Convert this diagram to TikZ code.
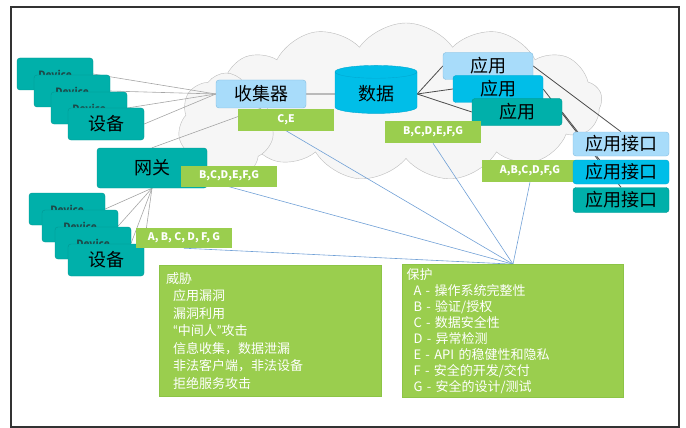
\documentclass[tikz,border=0pt]{standalone}
\usepackage{fontspec}
\setmainfont{Noto Sans CJK SC}
\newfontfamily\quotefont{Lato}
\usepackage{tikz}
\usetikzlibrary{shapes.geometric,shapes.symbols,backgrounds}

\definecolor{tealbox}{RGB}{0,176,170}
\definecolor{tealedge}{RGB}{0,150,146}
\definecolor{cyanbox}{RGB}{0,190,232}
\definecolor{cyanedge}{RGB}{0,168,210}
\definecolor{skybox}{RGB}{168,220,250}
\definecolor{skyedge}{RGB}{130,188,224}
\definecolor{greenbox}{RGB}{154,206,78}
\definecolor{greenedge}{RGB}{140,196,70}
\definecolor{cloudfill}{RGB}{246,246,246}
\definecolor{cloudedge}{RGB}{188,188,188}
\definecolor{blueline}{RGB}{112,160,214}
\definecolor{devtext}{RGB}{30,72,72}

\begin{document}
\begin{tikzpicture}[x=1pt, y=-1pt,
    box/.style={rectangle, draw, rounded corners=3pt, inner sep=0pt, font=\fontsize{18}{20}\selectfont},
    devbox/.style={box, fill=tealbox, draw=tealedge, minimum width=76pt, minimum height=32pt},
    backdev/.style={devbox, text=devtext, font=\fontsize{10}{12}\selectfont\bfseries},
    appbox/.style={box, minimum width=90pt, minimum height=27pt},
    apibox/.style={box, minimum width=96pt, minimum height=24pt},
    tag/.style={rectangle, fill=greenbox, inner sep=0pt, minimum height=21pt, minimum width=96pt, text=white, font=\fontsize{10.5}{12}\selectfont\bfseries},
    infobox/.style={rectangle, fill=greenbox, draw=greenedge, minimum width=222pt, minimum height=129pt, align=left, text=white},
    puff/.style={cloud, cloud puff arc=110, fill=cloudfill, draw=cloudedge, inner sep=0pt},
    grayline/.style={draw=black!35, line width=0.6pt},
    darkline/.style={draw=black!70, line width=0.8pt},
    bluelink/.style={draw=blueline, line width=0.6pt},
]
    \useasboundingbox (0,0) rectangle (686,428);
    \draw[black!80, line width=1.2pt] (11,7) rectangle (679,427);

    % devices feeding the collector
    \node[backdev] (dt1) at (55,74) {Device};
    \node[backdev] (dt2) at (72,91) {Device};
    \node[backdev] (dt3) at (89,108) {Device};
    \node[devbox] (dt4) at (106,124) {设备};

    % devices behind the gateway
    \node[backdev] (db1) at (67,209) {Device};
    \node[backdev] (db2) at (80,226) {Device};
    \node[backdev] (db3) at (93,243) {Device};
    \node[devbox] (db4) at (106,260) {设备};

    \node[devbox, minimum width=110pt, minimum height=40pt] (gw) at (152,168) {网关};
    \node[box, fill=skybox, draw=skyedge, minimum width=90pt, minimum height=28pt] (coll) at (261,94) {收集器};
    \node[cylinder, shape border rotate=90, aspect=0.3, minimum width=82pt, minimum height=48pt, fill=cyanbox, draw=cyanedge, font=\fontsize{18}{20}\selectfont] (data) at (376,94) {数据};

    \node[appbox, fill=skybox, draw=skyedge] (app1) at (488,66) {应用};
    \node[appbox, fill=cyanbox, draw=cyanedge] (app2) at (498,89) {应用};
    \node[appbox, fill=tealbox, draw=tealedge] (app3) at (517,112) {应用};

    % protection tags
    \node[tag] (cetag) at (286,120) {C,E};
    \node[tag] (gwtag) at (229,176) {B,C,D,E,F,G};
    \node[tag, minimum height=20pt] (devtag) at (184,238) {A, B, C, D, F, G};
    \node[tag, minimum height=22pt] (datatag) at (433,132) {B,C,D,E,F,G};
    \node[tag, minimum height=22pt] (apitag) at (530,171) {A,B,C,D,F,G};

    \node[apibox, fill=skybox, draw=skyedge] (api1) at (621,144) {应用接口};
    \node[apibox, fill=cyanbox, draw=cyanedge] (api2) at (621,172) {应用接口};
    \node[apibox, fill=tealbox, draw=tealedge, minimum height=25pt] (api3) at (621,200) {应用接口};

    \node[infobox, text width=208pt, inner sep=7pt, font=\fontsize{13}{17.5}\selectfont] (threat) at (270,331) {威胁\\
      \hspace*{7pt}应用漏洞\\
      \hspace*{7pt}漏洞利用\\
      \hspace*{7pt}{\quotefont “}中间人{\quotefont ”}攻击\\
      \hspace*{7pt}信息收集，数据泄漏\\
      \hspace*{7pt}非法客户端，非法设备\\
      \hspace*{7pt}拒绝服务攻击};
    \node[infobox, minimum width=221pt, text width=213pt, inner sep=4pt, font=\fontsize{13}{16}\selectfont] (protect) at (513,331) {保护\\
      \hspace*{7pt}A - 操作系统完整性\\
      \hspace*{7pt}B - 验证/授权\\
      \hspace*{7pt}C - 数据安全性\\
      \hspace*{7pt}D - 异常检测\\
      \hspace*{7pt}E - API 的稳健性和隐私\\
      \hspace*{7pt}F - 安全的开发/交付\\
      \hspace*{7pt}G - 安全的设计/测试};

    \begin{scope}[on background layer]
        % cloud
        \node[puff, cloud puffs=13, aspect=2.6, minimum width=392pt, minimum height=158pt] (cloud) at (406,102) {};
        \node[puff, cloud puffs=7, aspect=0.9, minimum width=96pt, minimum height=106pt] (cloudleft) at (226,126) {};

        \draw[grayline] (dt1.east) -- (coll.west);
        \draw[grayline] (dt2.east) -- (coll.west);
        \draw[grayline] (dt3.east) -- (coll.west);
        \draw[grayline] (dt4.east) -- (coll.west);
        \draw[grayline] (gw.north) -- (coll.south);
        \draw[grayline] (db1.east) -- (gw.south);
        \draw[grayline] (db2.east) -- (gw.south);
        \draw[grayline] (db3.east) -- (gw.south);
        \draw[grayline] (db4.north east) -- (gw.south);

        \draw[darkline] (coll.east) -- (data.west);
        \draw[darkline] (data.east) -- (app1.west);
        \draw[darkline] (data.east) -- (app2.west);
        \draw[darkline] (data.east) -- (app3.west);
        \draw[darkline] (app1.east) -- (api1.north);
        \draw[darkline] (app2.east) -- ([xshift=-23pt]api2.north);
        \draw[darkline] (app3.east) -- (api3.north);

        \draw[bluelink] (cetag.south) -- (protect.north);
        \draw[bluelink] (gwtag.south) -- (protect.north);
        \draw[bluelink] (devtag.south) -- (protect.north);
        \draw[bluelink] (datatag.south) -- (protect.north);
        \draw[bluelink] (apitag.south) -- (protect.north);
    \end{scope}
\end{tikzpicture}
\end{document}
